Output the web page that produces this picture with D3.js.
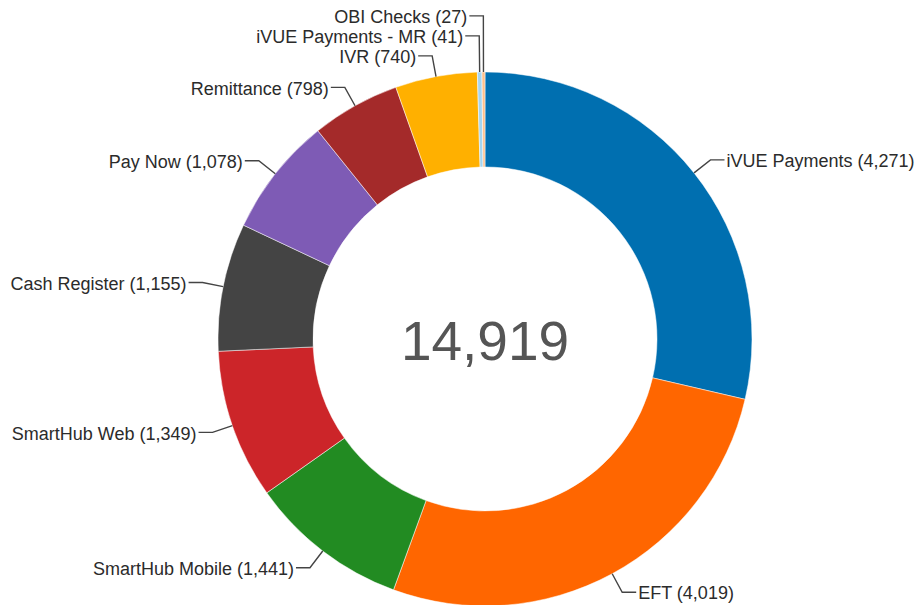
<!DOCTYPE html>
<html>
<head>
<meta charset="utf-8">
<script src="https://cdn.jsdelivr.net/npm/d3@7"></script>
<style>
  body { margin: 0; background: #fff; }
  svg { display: block; }
</style>
</head>
<body>
<section></section>
<script>
const categories = ["iVUE Payments", "EFT", "SmartHub Mobile", "SmartHub Web", "Cash Register",
    "Pay Now", "Remittance", "IVR", "iVUE Payments - MR", "OBI Checks"];
const values = [4271, 4019, 1441, 1349, 1155, 1078, 798, 740, 41, 27];
const palette = ["#006fb0", "#ff6600", "#228b22", "#cc2529", "#444444",
    "#7e5bb5", "#a42a2a", "#ffb000", "#a6d5f0", "#ffc08c"];

const WIDTH = 920;
const HEIGHT = 605;
const CX = 485;
const CY = 339;
const OUTER = 267;
const INNER = 172;
const ELBOW = 288;      // radius where leader lines bend
const TAIL = 14;        // horizontal part of the leader
const GAP = 20;         // min vertical space between labels

const data = categories.map((c, i) => ({name: c, value: values[i]}));
const fmt = d3.format(",");

const svg = d3.select("section")
    .append("svg")
    .attr("width", WIDTH)
    .attr("height", HEIGHT);

const g = svg.append("g")
    .attr("transform", "translate(" + CX + "," + CY + ")");

const pie = d3.pie()
    .value(d => d.value)
    .sort(null);

const arcs = pie(data);

const arc = d3.arc()
    .innerRadius(INNER)
    .outerRadius(OUTER);

const color = d3.scaleOrdinal()
    .domain(categories)
    .range(palette);

g.selectAll("path.slice")
    .data(arcs)
    .enter()
    .append("path")
    .attr("class", "slice")
    .attr("d", arc)
    .attr("fill", d => color(d.data.name))
    .attr("stroke", "#fff")
    .attr("stroke-width", 0.5);

// label positions
const labels = arcs.map(d => {
    const a = (d.startAngle + d.endAngle) / 2;
    return {
        d: d,
        side: Math.sin(a) >= 0 ? 1 : -1,
        p0: [OUTER * Math.sin(a), -OUTER * Math.cos(a)],
        ex: ELBOW * Math.sin(a),
        ey: -ELBOW * Math.cos(a)
    };
});
labels.forEach(l => l.y = l.ey);

// push crowded labels upward, bottom first
[1, -1].forEach(side => {
    const list = labels.filter(l => l.side === side).sort((a, b) => b.y - a.y);
    for (let i = 1; i < list.length; i++) {
        list[i].y = Math.min(list[i].y, list[i - 1].y - GAP);
    }
});

g.selectAll("polyline.leader")
    .data(labels)
    .enter()
    .append("polyline")
    .attr("class", "leader")
    .attr("points", l => [l.p0, [l.ex, l.y], [l.ex + l.side * TAIL, l.y]].map(p => p.join(",")).join(" "))
    .attr("fill", "none")
    .attr("stroke", "#444")
    .attr("stroke-width", 1.4);

g.selectAll("text.label")
    .data(labels)
    .enter()
    .append("text")
    .attr("class", "label")
    .attr("x", l => l.ex + l.side * (TAIL + 2))
    .attr("y", l => l.y)
    .attr("dy", "0.4em")
    .attr("text-anchor", l => l.side > 0 ? "start" : "end")
    .attr("font-family", "'Liberation Sans', Arial, sans-serif")
    .attr("font-size", 18)
    .attr("fill", "#2b2b2b")
    .text(l => l.d.data.name + " (" + fmt(l.d.data.value) + ")");

g.append("text")
    .attr("x", 0)
    .attr("y", 21)
    .attr("text-anchor", "middle")
    .attr("font-family", "'Liberation Sans', Arial, sans-serif")
    .attr("font-size", 55)
    .attr("fill", "#555")
    .text(fmt(d3.sum(values)));
</script>
</body>
</html>
